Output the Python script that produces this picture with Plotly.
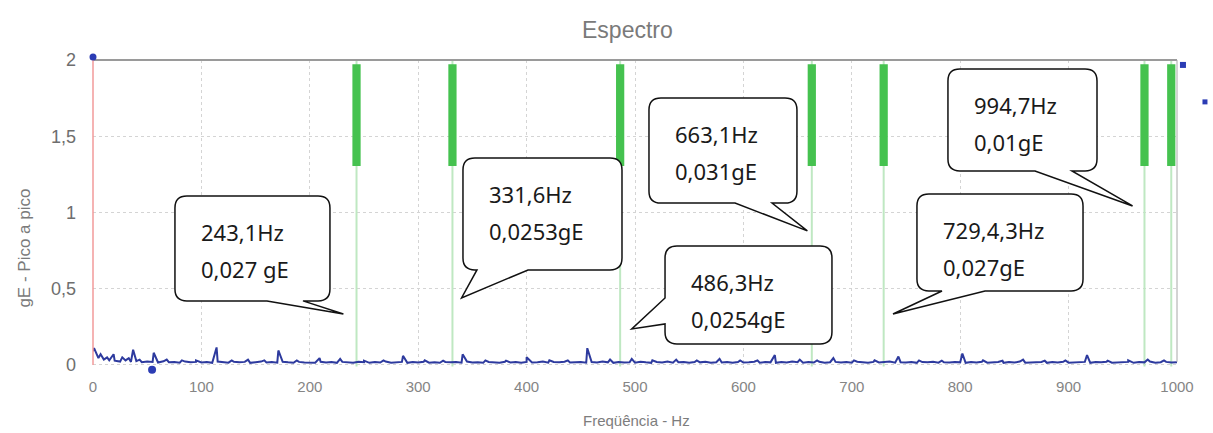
import plotly.graph_objects as go

# ---------------- data ----------------
base_hz = list(range(0, 1001, 5))
base_amp = [
    0.090, 0.045, 0.035, 0.030, 0.028, 0.022, 0.030, 0.020, 0.025, 0.018, 0.022, 0.020, 0.016, 0.024, 0.018, 0.020, 0.015, 0.022, 0.018, 0.020,
    0.016, 0.020, 0.014, 0.022, 0.018, 0.015, 0.021, 0.017, 0.020, 0.014, 0.018, 0.022, 0.016, 0.019, 0.015, 0.021, 0.017, 0.014, 0.020, 0.016,
    0.018, 0.015, 0.021, 0.016, 0.019, 0.014, 0.020, 0.017, 0.015, 0.021, 0.018, 0.014, 0.019, 0.016, 0.022, 0.015, 0.018, 0.020, 0.014, 0.019,
    0.016, 0.021, 0.015, 0.018, 0.014, 0.020, 0.017, 0.019, 0.015, 0.022, 0.016, 0.018, 0.014, 0.020, 0.017, 0.015, 0.021, 0.016, 0.019, 0.014,
    0.020, 0.016, 0.018, 0.022, 0.015, 0.019, 0.017, 0.021, 0.016, 0.018, 0.020, 0.015, 0.019, 0.016, 0.022, 0.017, 0.014, 0.020, 0.016, 0.018,
    0.015, 0.021, 0.017, 0.014, 0.019, 0.016, 0.022, 0.015, 0.018, 0.020, 0.014, 0.019, 0.017, 0.021, 0.015, 0.018, 0.016, 0.020, 0.014, 0.019,
    0.016, 0.018, 0.021, 0.015, 0.019, 0.017, 0.014, 0.020, 0.016, 0.022, 0.018, 0.015, 0.019, 0.016, 0.021, 0.014, 0.018, 0.020, 0.016, 0.019,
    0.015, 0.021, 0.017, 0.014, 0.020, 0.016, 0.019, 0.022, 0.015, 0.018, 0.016, 0.020, 0.014, 0.019, 0.017, 0.021, 0.015, 0.018, 0.016, 0.020,
    0.017, 0.014, 0.019, 0.016, 0.021, 0.015, 0.018, 0.020, 0.014, 0.019, 0.016, 0.022, 0.015, 0.018, 0.017, 0.020, 0.014, 0.019, 0.016, 0.021,
    0.015, 0.018, 0.016, 0.020, 0.014, 0.019, 0.017, 0.021, 0.015, 0.018, 0.016, 0.020, 0.014, 0.019, 0.017, 0.022, 0.015, 0.018, 0.020, 0.016,
    0.018,
]
peak_hz = [1, 7, 13, 19, 27, 33, 37, 43, 56, 68,
           82, 95, 114, 128, 143, 158, 171, 188, 209, 228,
           250, 268, 286, 306, 323, 341, 362, 381, 400, 421,
           438, 456, 477, 497, 516, 538, 557, 578, 597, 613,
           629, 652, 668, 683, 702, 721, 743, 762, 783, 802,
           821, 839, 858, 878, 897, 917, 936, 955, 973, 988]
peak_amp = [0.11, 0.07, 0.05, 0.07, 0.05, 0.045, 0.10, 0.035, 0.08, 0.035,
            0.03, 0.03, 0.115, 0.03, 0.035, 0.03, 0.095, 0.03, 0.045, 0.04,
            0.028, 0.03, 0.06, 0.03, 0.028, 0.07, 0.03, 0.028, 0.05, 0.03,
            0.03, 0.11, 0.035, 0.04, 0.03, 0.035, 0.03, 0.04, 0.03, 0.03,
            0.065, 0.035, 0.03, 0.045, 0.03, 0.03, 0.055, 0.03, 0.028, 0.075,
            0.03, 0.028, 0.035, 0.028, 0.03, 0.065, 0.028, 0.03, 0.035, 0.03]

marker_hz = [243.1, 331.6, 486.3, 663.1, 729.4, 970.0, 994.7]

callout_line1 = ["243,1Hz", "331,6Hz", "663,1Hz", "486,3Hz", "729,4,3Hz", "994,7Hz"]
callout_line2 = ["0,027 gE", "0,0253gE", "0,031gE", "0,0254gE", "0,027gE", "0,01gE"]
# tip of each callout (Hz, gE)
callout_tip_hz = [231, 340, 659, 497, 738, 959]
callout_tip_ge = [0.334, 0.44, 0.879, 0.236, 0.334, 1.043]
# box extent (Hz left/right, gE top/bottom)
callout_x0 = [75.6, 341.3, 512.9, 527.7, 760.1, 788.7]
callout_x1 = [218.6, 488.0, 649.4, 681.7, 913.3, 926.2]
callout_top = [1.108, 1.357, 1.751, 0.780, 1.121, 1.941]
callout_bot = [0.420, 0.623, 1.062, 0.138, 0.485, 1.272]
callout_side = ["bottom", "bottom", "bottom", "left", "bottom", "bottom"]
callout_base_a = [160.5, 354.2, 592.3, 0.439, 783.2, 869.0]
callout_base_b = [193.7, 401.3, 626.4, 0.269, 822.9, 903.1]

x_ticks = [0, 100, 200, 300, 400, 500, 600, 700, 800, 900, 1000]
x_ticktext = ["0", "100", "200", "300", "400", "500", "600", "700", "800", "900", "1000"]
y_ticks = [0, 0.5, 1, 1.5, 2]
y_ticktext = ["0", "0,5", "1", "1,5", "2"]

# --------------- build ---------------
assert len(base_hz) == len(base_amp)
assert len(peak_hz) == len(peak_amp)
pts = sorted(list(zip(base_hz, base_amp)) + list(zip(peak_hz, peak_amp)))
spec_hz = [p[0] for p in pts]
spec_amp = [p[1] for p in pts]

fig = go.Figure()

# green marker lines (thin, full height)
for f in marker_hz:
    fig.add_trace(go.Scatter(x=[f, f], y=[-0.01, 2.0], mode="lines",
                             line=dict(color="#bfe8c2", width=2),
                             hoverinfo="skip", showlegend=False))

fig.add_trace(go.Scatter(x=spec_hz, y=spec_amp, mode="lines",
                         line=dict(color="#2d3a9e", width=2),
                         showlegend=False))

shapes = []
# green label blocks
half_w = 3.8
for f in marker_hz:
    shapes.append(dict(type="rect", xref="x", yref="y",
                       x0=f - half_w, x1=f + half_w, y0=1.305, y1=1.972,
                       fillcolor="#45c24f", line=dict(width=0), layer="above"))

# frame
shapes.append(dict(type="line", xref="paper", yref="paper", x0=0, x1=1, y0=1, y1=1,
                   line=dict(color="#9a9a9a", width=2)))
shapes.append(dict(type="line", xref="paper", yref="paper", x0=1, x1=1, y0=0.02, y1=1,
                   line=dict(color="#a8a8a8", width=1)))
shapes.append(dict(type="line", xref="paper", yref="paper", x0=0, x1=0, y0=0.01, y1=1,
                   line=dict(color="#f29a9a", width=1.5)))

# small blue cursor handles (pixel-sized, anchored in paper space)
cursor_anchor_x = [0.0, 0.0545, 1.0055, 1.0258]
cursor_anchor_y = [1.01, -0.006, 0.984, 0.864]
cursor_kind = ["circle", "circle", "rect", "rect"]
cursor_size = [7, 8, 6, 5]
for ax_, ay_, k, s in zip(cursor_anchor_x, cursor_anchor_y, cursor_kind, cursor_size):
    shapes.append(dict(type=k, xref="paper", yref="paper",
                       xsizemode="pixel", ysizemode="pixel",
                       xanchor=ax_, yanchor=ay_,
                       x0=-s / 2, x1=s / 2, y0=-s / 2, y1=s / 2,
                       fillcolor="#2b3cb4", line=dict(width=0), layer="above"))

# callouts
rx, ry = 11.0, 0.078
annotations = []
for i in range(len(callout_line1)):
    x0, x1 = callout_x0[i], callout_x1[i]
    t, b = callout_top[i], callout_bot[i]
    tx, ty = callout_tip_hz[i], callout_tip_ge[i]
    a, bb = callout_base_a[i], callout_base_b[i]
    p = f"M {x0+rx},{t} L {x1-rx},{t} Q {x1},{t} {x1},{t-ry} "
    p += f"L {x1},{b+ry} Q {x1},{b} {x1-rx},{b} "
    if callout_side[i] == "bottom":
        p += f"L {bb},{b} L {tx},{ty} L {a},{b} "
        p += f"L {x0+rx},{b} Q {x0},{b} {x0},{b+ry} L {x0},{t-ry} Q {x0},{t} {x0+rx},{t} Z"
    else:
        p += f"L {x0+rx},{b} Q {x0},{b} {x0},{b+ry} "
        p += f"L {x0},{bb} L {tx},{ty} L {x0},{a} "
        p += f"L {x0},{t-ry} Q {x0},{t} {x0+rx},{t} Z"
    shapes.append(dict(type="path", xref="x", yref="y", path=p,
                       fillcolor="white", line=dict(color="#111111", width=1.5),
                       layer="above"))
    for line_txt, dy in ((callout_line1[i], 0.235), (callout_line2[i], 0.48)):
        annotations.append(dict(xref="x", yref="y", x=x0 + 22, y=t - dy,
                                 text=line_txt, showarrow=False,
                                 xanchor="left", yanchor="middle",
                                 font=dict(family="Noto Sans", size=22, color="#1a1a1a")))

# titles
annotations.append(dict(xref="paper", yref="paper", x=0.4935, y=1.097, text="Espectro",
                        showarrow=False, xanchor="center", yanchor="middle",
                        font=dict(family="Liberation Sans", size=23, color="#7a7a7a")))
annotations.append(dict(xref="paper", yref="paper", x=0.501, y=-0.169, text="Freqüência - Hz",
                        showarrow=False, xanchor="center", yanchor="middle",
                        font=dict(family="Liberation Sans", size=15, color="#7d7d7d")))
annotations.append(dict(xref="paper", yref="paper", x=-0.063, y=0.39, text="gE - Pico a pico",
                        textangle=-90, showarrow=False, xanchor="center", yanchor="middle",
                        font=dict(family="Liberation Sans", size=17, color="#7a7a7a")))

fig.update_layout(
    width=1213, height=433, autosize=False,
    margin=dict(l=93, r=36, t=60, b=65),
    paper_bgcolor="white", plot_bgcolor="white",
    shapes=shapes, annotations=annotations,
    xaxis=dict(range=[0, 1000], tickvals=x_ticks, ticktext=x_ticktext,
               showgrid=True, gridcolor="#d4d4d4", griddash="dot", gridwidth=1,
               zeroline=False, showline=False, ticks="",
               ticklabelstandoff=8,
               tickfont=dict(family="Liberation Sans", size=15, color="#858585")),
    yaxis=dict(range=[-0.02, 2.0], tickvals=y_ticks, ticktext=y_ticktext,
               showgrid=True, gridcolor="#d4d4d4", griddash="dot", gridwidth=1,
               zeroline=False, showline=False, ticks="",
               ticklabelstandoff=16,
               tickfont=dict(family="Liberation Sans", size=18, color="#6e6e6e")),
)

fig.write_html("out.html")
